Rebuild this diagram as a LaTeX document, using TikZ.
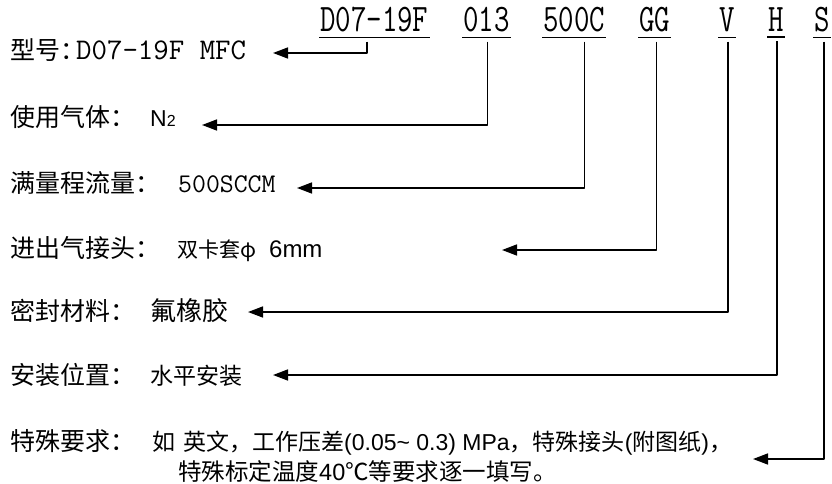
\documentclass[tikz,border=0pt]{standalone}
\usepackage{fontspec}
\setmainfont{Noto Sans CJK SC}
\newfontfamily\arial{Liberation Sans}
\usetikzlibrary{arrows.meta}
\newcommand\lbl[2]{\makebox[#1][l]{\fontsize{25}{30}\selectfont #2}}
\tikzset{
  row/.style={anchor=base west, inner sep=0pt},
  code/.style={anchor=base west, inner xsep=1pt, inner ysep=0pt, font=\fontsize{30}{30}\selectfont\ttfamily},
  uline/.style={line width=1.6pt},
  lead/.style={line width=1.6pt, -{Triangle[length=15pt,width=11pt]}}
}
\begin{document}
\begin{tikzpicture}[x=1pt, y=-1pt, line join=round]
\useasboundingbox (0,0) rectangle (832,484);

% 型号代码
\node[code] (cModel) at (319,32) {\scalebox{1}[1.3]{D07-19F}};
\node[code] (cGas)   at (462,32) {\scalebox{1}[1.3]{013}};
\node[code] (cRange) at (542,32) {\scalebox{1}[1.3]{500C}};
\node[code] (cFit)   at (638,32) {\scalebox{1}[1.3]{GG}};
\node[code] (cSeal)  at (718,32) {\scalebox{1}[1.3]{V}};
\node[code] (cMount) at (767,32) {\scalebox{1}[1.3]{H}};
\node[code] (cOpt)   at (813,32) {\scalebox{1}[1.3]{S}};
\foreach \c in {cModel,cGas,cRange,cFit,cSeal,cMount,cOpt}
  \draw[uline] ([yshift=-5pt]\c.south west) -- ([yshift=-5pt]\c.south east);

% 各项说明
\node[row] (rModel) at (10,60) {\lbl{66pt}{型号：}{\fontsize{30}{32}\selectfont\ttfamily D07-19F MFC}};
\node[row] (rGas) at (10,127) {\lbl{140pt}{使用气体：}{\arial\fontsize{23}{26}\selectfont N{\fontsize{16}{16}\selectfont 2}}};
\node[row] (rRange) at (10,192) {\lbl{168pt}{满量程流量：}{\fontsize{27}{30}\selectfont\ttfamily 500SCCM}};
\node[row] (rFit) at (10,257) {\lbl{167pt}{进出气接头：}{\fontsize{21}{24}\selectfont 双卡套φ}\hspace{13pt}{\arial\fontsize{24}{26}\selectfont 6mm}};
\node[row] (rSeal) at (10,320) {\lbl{140pt}{密封材料：}{\fontsize{26}{30}\selectfont 氟橡胶}};
\node[row] (rMount) at (10,384) {\lbl{140pt}{安装位置：}{\fontsize{23}{26}\selectfont 水平安装}};
\node[row] (rOpt) at (10,450) {\lbl{142pt}{特殊要求：}{\fontsize{23}{26}\selectfont 如\hspace{8pt}英文，工作压差{\arial (0.05\textasciitilde{} 0.3) MPa}，特殊接头{\arial (}附图纸{\arial )}，}};
\node[row] (rOptB) at (178,480) {\fontsize{23.5}{26}\selectfont 特殊标定温度{\arial 40}℃等要求逐一填写。};

% 箭头终点
\coordinate (tModel) at (273,53);
\coordinate (tGas)   at (202,125);
\coordinate (tRange) at (297,188);
\coordinate (tFit)   at (502,250);
\coordinate (tSeal)  at (248,312);
\coordinate (tMount) at (273,375);
\coordinate (tOpt)   at (753,459);

% 引线
\draw[lead] ([xshift=-7pt,yshift=-9pt]cModel.south) |- (tModel);
\draw[lead] ([xshift=1pt,yshift=-9pt]cGas.south) |- (tGas);
\draw[lead] ([xshift=10.5pt,yshift=-9pt]cRange.south) |- (tRange);
\draw[lead] ([xshift=2pt,yshift=-9pt]cFit.south) |- (tFit);
\draw[lead] ([xshift=1pt,yshift=-9pt]cSeal.south) |- (tSeal);
\draw[lead] ([xshift=1pt,yshift=-9pt]cMount.south) |- (tMount);
\draw[lead] ([xshift=2pt,yshift=-9pt]cOpt.south) |- (tOpt);
\end{tikzpicture}
\end{document}
